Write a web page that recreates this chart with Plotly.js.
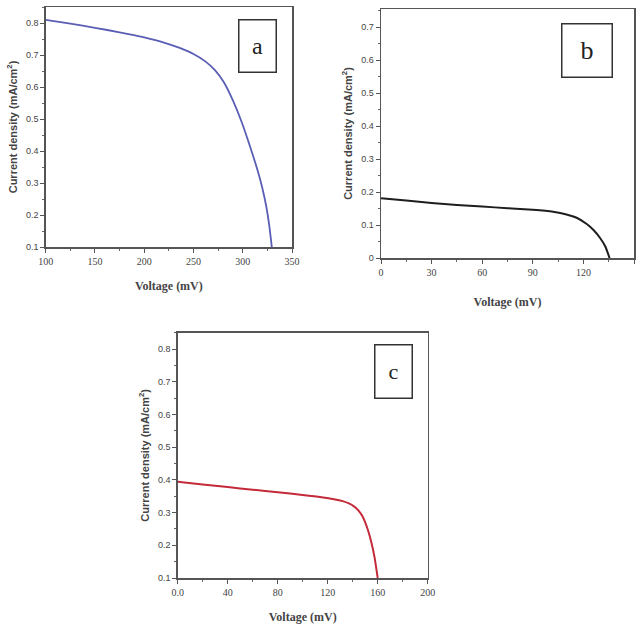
<!DOCTYPE html>
<html><head><meta charset="utf-8">
<script src="https://cdn.plot.ly/plotly-3.0.1.min.js"></script>
<style>body{margin:0;padding:0;background:#fff}#g{width:637px;height:628px}</style>
</head><body><div id="g"></div>
<script>
// Panel a
const voltA = [100, 125, 150, 175, 200, 220, 236, 250, 262, 272, 281, 290, 299, 307, 316, 320, 324, 327, 329.5];
const currA = [0.81, 0.798, 0.785, 0.771, 0.755, 0.739, 0.722, 0.703, 0.68, 0.652, 0.614, 0.558, 0.49, 0.418, 0.33, 0.283, 0.225, 0.165, 0.1];
// Panel b
const voltB = [0, 15, 30, 45, 60, 75, 90, 102, 110, 116, 122, 126, 130, 133, 135.5];
const currB = [0.181, 0.174, 0.167, 0.161, 0.156, 0.151, 0.146, 0.14, 0.132, 0.122, 0.103, 0.085, 0.06, 0.035, 0];
// Panel c
const voltC = [0, 20, 40, 60, 80, 100, 115, 125, 132, 137, 141, 144.5, 147.5, 150, 152.5, 155, 157.5, 160];
const currC = [0.394, 0.386, 0.378, 0.37, 0.362, 0.354, 0.347, 0.341, 0.335, 0.328, 0.319, 0.307, 0.291, 0.27, 0.243, 0.208, 0.163, 0.1];
const panelLabels = ["a", "b", "c"];
const xTitle = "Voltage (mV)";
const yTitle = "Current density (mA/cm<sup>2</sup>)";

const W = 637, H = 628;
const px = v => v / W, py = v => 1 - v / H;

const traces = [
  {x: voltA, y: currA, xaxis: 'x', yaxis: 'y', mode: 'lines', line: {color: '#5a5eb4', width: 1.8, shape: 'spline', smoothing: 0.6}},
  {x: voltB, y: currB, xaxis: 'x2', yaxis: 'y2', mode: 'lines', line: {color: '#1e1e1e', width: 2, shape: 'spline', smoothing: 0.6}},
  {x: voltC, y: currC, xaxis: 'x3', yaxis: 'y3', mode: 'lines', line: {color: '#c42a3a', width: 2, shape: 'spline', smoothing: 0.6}}
];

const axCommon = {
  showgrid: false, zeroline: false, showline: true, mirror: true,
  linecolor: '#555', linewidth: 1.5, ticks: 'outside', ticklen: 4, tickwidth: 1, tickcolor: '#555'
};
function xa(dom, range, dtick, anchor, standoff) {
  return Object.assign({}, axCommon, {
    domain: dom, range: range, dtick: dtick, tick0: 0, anchor: anchor,
    tickfont: {family: 'Liberation Serif', size: 10, color: '#444'},
    minor: {dtick: dtick / 2, ticks: 'outside', ticklen: 2, tickcolor: '#666'},
    title: {text: '<b>' + xTitle + '</b>', font: {family: 'Liberation Serif', size: 12, color: '#444'}, standoff: standoff}
  });
}
function ya(dom, range, anchor) {
  return Object.assign({}, axCommon, {
    domain: dom, range: range, dtick: 0.1, anchor: anchor,
    tickfont: {family: 'Liberation Sans', size: 9, color: '#444'},
    minor: {dtick: 0.05, ticks: 'outside', ticklen: 2, tickcolor: '#666'},
    title: {text: '<b>' + yTitle + '</b>', font: {family: 'Liberation Sans', size: 11, color: '#444'}, standoff: 6}
  });
}

const layout = {
  width: W, height: H, margin: {l: 0, r: 0, t: 0, b: 0},
  paper_bgcolor: '#fff', plot_bgcolor: '#fff', showlegend: false,
  xaxis: xa([px(45.7), px(292)], [100, 350], 50, 'y', 16),
  yaxis: Object.assign(ya([py(247), py(7)], [0.1, 0.85], 'x'), {tickformat: '.1f'}),
  xaxis2: xa([px(381), px(634)], [0, 150], 30, 'y2', 21),
  yaxis2: Object.assign(ya([py(258), py(9)], [0, 0.755], 'x2'), {tickvals: [0, 0.1, 0.2, 0.3, 0.4, 0.5, 0.6, 0.7], ticktext: ['0', '0.1', '0.2', '0.3', '0.4', '0.5', '0.6', '0.7']}),
  xaxis3: Object.assign(xa([px(177.7), px(427.7)], [0, 200], 40, 'y3', 16), {tickvals: [0, 40, 80, 120, 160, 200], ticktext: ['0.0', '40', '80', '120', '160', '200']}),
  yaxis3: Object.assign(ya([py(578), py(332.7)], [0.1, 0.85], 'x3'), {tickformat: '.1f'}),
  annotations: [
    {xref: 'paper', yref: 'paper', x: px(257.5), y: py(46), text: panelLabels[0], showarrow: false, xanchor: 'center', yanchor: 'middle',
     width: 36, height: 51, bordercolor: '#333', borderwidth: 1.5, borderpad: 0, bgcolor: '#fff', font: {family: 'Liberation Serif', size: 24, color: '#222'}},
    {xref: 'paper', yref: 'paper', x: px(587), y: py(50.5), text: panelLabels[1], showarrow: false, xanchor: 'center', yanchor: 'middle',
     width: 49, height: 52, bordercolor: '#333', borderwidth: 1.5, borderpad: 0, bgcolor: '#fff', font: {family: 'Liberation Serif', size: 26, color: '#222'}},
    {xref: 'paper', yref: 'paper', x: px(393.5), y: py(371.5), text: panelLabels[2], showarrow: false, xanchor: 'center', yanchor: 'middle',
     width: 36, height: 52, bordercolor: '#333', borderwidth: 1.5, borderpad: 0, bgcolor: '#fff', font: {family: 'Liberation Serif', size: 22, color: '#222'}}
  ]
};
Plotly.newPlot('g', traces, layout, {staticPlot: true, displayModeBar: false});
</script></body></html>
